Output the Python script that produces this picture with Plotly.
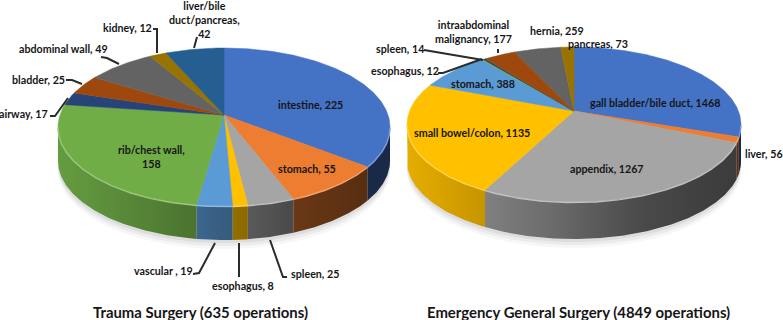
import numpy as np
import plotly.graph_objects as go

# ---- data ----
trauma_names = ["intestine", "stomach", "spleen", "esophagus", "vascular ", "rib/chest wall",
                "airway", "bladder", "abdominal wall", "kidney", "liver/bile duct/pancreas"]
trauma_values = [225, 55, 25, 8, 19, 158, 17, 25, 49, 12, 42]
egs_names = ["gall bladder/bile duct", "liver", "appendix", "small bowel/colon", "stomach",
             "esophagus", "spleen", "intraabdominal malignancy", "hernia", "pancreas"]
egs_values = [1468, 56, 1267, 1135, 388, 12, 14, 177, 259, 73]
palette = ["#4472C4", "#ED7D31", "#A5A5A5", "#FFC000", "#5B9BD5", "#70AD47",
           "#264478", "#9E480E", "#636363", "#997300", "#255E91"]
titles = ["Trauma Surgery (635 operations)", "Emergency General Surgery (4849 operations)"]

# ---- label layout (pixels) ----
trauma_label_pos = [(310, 104), (307, 168), (315, 273), (243, 285), (163, 270), (151, 156),
                    (23, 113), (38, 79), (63, 48), (127, 27), (204, 19)]
trauma_breaks = {5: "rib/chest wall,<br>158", 10: "liver/bile<br>duct/pancreas,<br>42"}
egs_label_pos = [(655, 102), (764, 153), (607, 168), (472, 132), (483, 83), (405, 70), (400, 48),
                 (473, 31), (557, 30), (598, 43)]
egs_breaks = {7: "intraabdominal<br>malignancy, 177"}
leaders = [
    [(153, 29), (157, 29), (157, 53)], [(197, 37), (194, 48)],
    [(101, 57), (107, 58), (119, 64)], [(66, 80), (72, 80), (82, 84)],
    [(50, 116), (55, 116), (68, 98)], [(193, 274), (199, 273), (215, 243)],
    [(239, 277), (239, 243)], [(287, 277), (283, 277), (270, 240)],
    [(424, 50), (430, 51), (483, 60)], [(438, 73), (443, 73), (482, 59)],
    [(498, 49), (498, 53)],
]
TEXT = "#161616"
FONT = "Lato"

def rgb(h):
    return np.array([int(h[i:i + 2], 16) for i in (1, 3, 5)], float)

def css(c):
    return "rgb(%d,%d,%d)" % tuple(np.clip(np.round(c), 0, 255))

def shade(u):
    return np.interp(u, [-1, -.55, -.16, 0, .4, .85, 1], [.9, .78, .66, .6, .45, .37, .36])

fig = go.Figure()

def pie(values, cx, cy, up, down, rx, depth):
    ratio = down / up
    p = (ratio - 1) / (ratio + 1)
    a = down * (1 - p)
    b = rx * np.sqrt(1 - p * p)

    def proj(theta):
        u, v = np.sin(theta), -np.cos(theta)
        w = 1 - p * v
        return cx + b * u / w, cy + a * v / w

    edges = np.cumsum([0] + list(values)) / np.sum(values) * 2 * np.pi
    front = (np.arccos(-p), 2 * np.pi - np.arccos(-p))

    # soft shadow under the pie
    t = np.linspace(0, 2 * np.pi, 240)
    for off, op in ((9, .05), (6, .07), (3, .09)):
        x, y = proj(t)
        fig.add_trace(go.Scatter(x=x, y=y + depth + off, mode="none", fill="toself",
                                 fillcolor=f"rgba(90,90,90,{op})", hoverinfo="skip"))
    # outer walls
    for i in range(len(values)):
        s, e = max(edges[i], front[0]), min(edges[i + 1], front[1])
        if e <= s:
            continue
        t = np.linspace(s, e, max(3, int((e - s) * 90)))
        x, y = proj(t)
        us = np.linspace(0, 1, 9)
        xs = x.min() + us * max(x.max() - x.min(), .01)
        f = shade((xs - cx) / rx)
        col = rgb(palette[i])
        scale = [[float(q), css(col * k)] for q, k in zip(us, f)]
        fig.add_trace(go.Scatter(
            x=np.r_[x, x[::-1]], y=np.r_[y, y[::-1] + depth], mode="lines",
            line=dict(width=0, color=css(col * .5)), fill="toself",
            fillgradient=dict(type="horizontal", colorscale=scale),
            hoverinfo="skip"))
    # top faces
    for i in range(len(values)):
        t = np.linspace(edges[i], edges[i + 1], max(3, int((edges[i + 1] - edges[i]) * 90)))
        x, y = proj(t)
        fig.add_trace(go.Scatter(x=np.r_[cx, x, cx], y=np.r_[cy, y, cy], mode="lines",
                                 line=dict(width=.5, color=palette[i]), fill="toself",
                                 fillcolor=palette[i], hoverinfo="skip"))
    # bevel on the front rim
    for i in range(len(values)):
        s, e = max(edges[i], front[0]), min(edges[i + 1], front[1])
        if e <= s:
            continue
        x, y = proj(np.linspace(s, e, max(3, int((e - s) * 90))))
        c = rgb(palette[i])
        fig.add_trace(go.Scatter(x=x, y=y + .6, mode="lines", hoverinfo="skip",
                                 line=dict(width=1.4, color=css(c + (255 - c) * .3))))

pie(trauma_values, 224, 115, 67, 91, 166, 34)
pie(egs_values, 574, 111, 64, 91, 167, 37)

for pts in leaders:
    xs, ys = zip(*pts)
    fig.add_trace(go.Scatter(x=xs, y=ys, mode="lines", hoverinfo="skip",
                             line=dict(color="#2b2b2b", width=2)))

ann = []
def label(txt, pos, size=10.7):
    ann.append(dict(x=pos[0], y=pos[1], xref="x", yref="y", text=txt, showarrow=False,
                    xanchor="center", yanchor="middle", align="center",
                    font=dict(family=FONT, size=size, color=TEXT, weight="bold")))

for names, vals, poss, brk in ((trauma_names, trauma_values, trauma_label_pos, trauma_breaks),
                               (egs_names, egs_values, egs_label_pos, egs_breaks)):
    for i, (n, v, q) in enumerate(zip(names, vals, poss)):
        label(brk.get(i, f"{n}, {v}"), q)
label(titles[0], (200, 312), 14.9)
label(titles[1], (578, 312), 14.9)

fig.update_layout(
    width=783, height=320, margin=dict(l=0, r=0, t=0, b=0), showlegend=False,
    paper_bgcolor="white", plot_bgcolor="white", annotations=ann,
    xaxis=dict(range=[0, 783], visible=False, fixedrange=True),
    yaxis=dict(range=[320, 0], visible=False, fixedrange=True),
)
fig.write_html("out.html", config=dict(displayModeBar=False),
               post_script="document.body.style.margin='0';document.body.style.overflow='hidden';")
